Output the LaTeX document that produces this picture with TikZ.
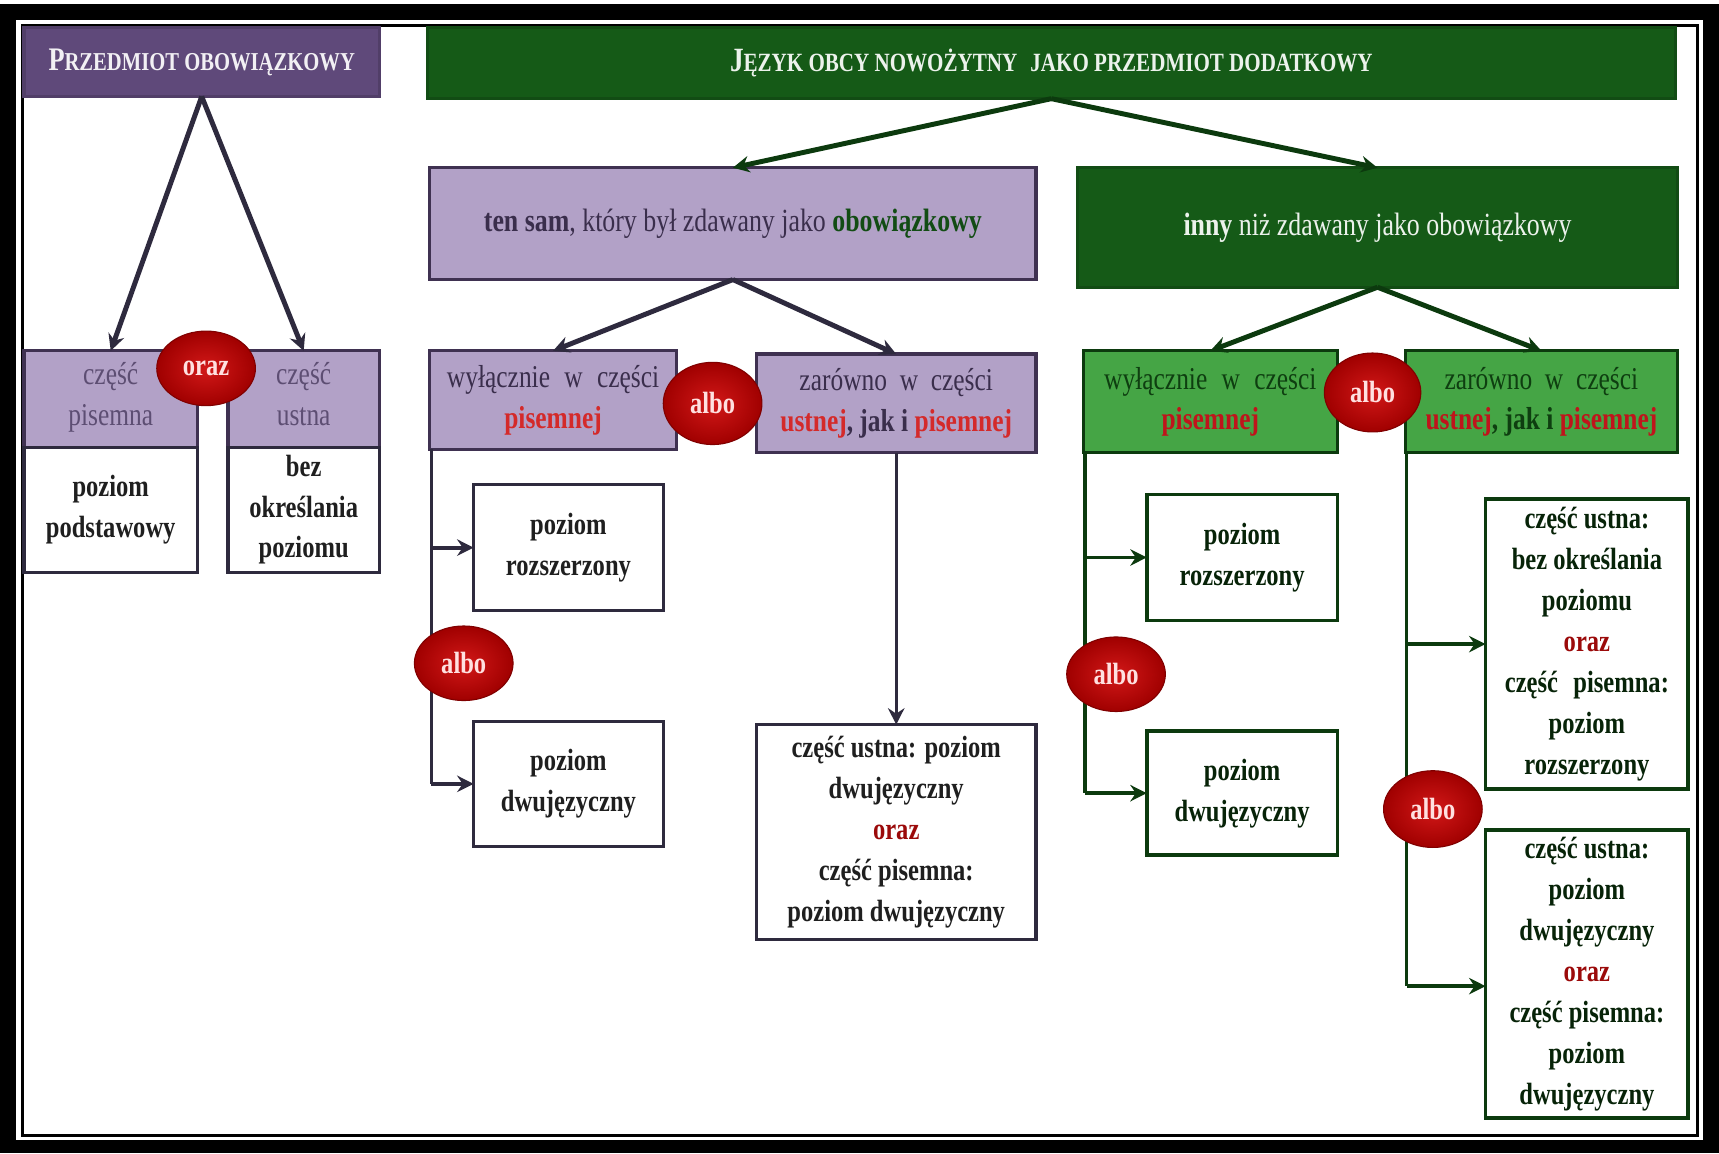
\documentclass[tikz,border=0pt]{standalone}
\usepackage{fontspec}
\setmainfont{Liberation Serif}[FakeStretch=0.8]
\usetikzlibrary{shapes.geometric,arrows.meta}
\definecolor{dpurple}{HTML}{5F497A}
\definecolor{lpurple}{HTML}{B2A1C7}
\definecolor{bpurple}{HTML}{3F3151}
\definecolor{tpurple}{HTML}{3A2E4C}
\definecolor{gpurple}{HTML}{5D4E73}
\definecolor{lnpurple}{HTML}{2E2A3E}
\definecolor{dgreen}{HTML}{155A17}
\definecolor{mgreen}{HTML}{45A545}
\definecolor{bgreen}{HTML}{0C3A0E}
\definecolor{tgreen}{HTML}{0E3E10}
\definecolor{txtred}{HTML}{D42A2A}
\definecolor{gred}{HTML}{C0141B}
\definecolor{darkred}{HTML}{9B0A0A}
\definecolor{ovalin}{HTML}{D21818}
\definecolor{ovalout}{HTML}{A00000}
\tikzset{
  base/.style={rectangle, inner sep=0pt, outer sep=0pt, align=center, line width=3pt},
  hdrP/.style={base, fill=dpurple, draw=dpurple!85!black, text=white!92!dpurple},
  hdrG/.style={base, fill=dgreen, draw=dgreen!85!black, text=white!92!dgreen},
  midP/.style={base, fill=lpurple, draw=bpurple, text=tpurple, font=\fontsize{29.5}{36}\selectfont},
  midG/.style={base, fill=dgreen, draw=dgreen!85!black, text=white!92!dgreen, font=\fontsize{29.5}{36}\selectfont},
  lboxP/.style={base, fill=lpurple, draw=bpurple, text=tpurple, font=\fontsize{29}{37}\selectfont},
  lboxG/.style={base, fill=mgreen, draw=bgreen, text=tgreen, font=\fontsize{29}{37}\selectfont},
  wboxP/.style={base, fill=white, draw=lnpurple, text=black!88, font=\fontsize{28}{37.2}\selectfont\bfseries},
  wboxG/.style={base, fill=white, draw=bgreen, line width=3.5pt, text=bgreen!60!black, font=\fontsize{28}{37.4}\selectfont\bfseries},
  oval/.style={ellipse, inner sep=0pt, minimum width=90pt, minimum height=68pt,
    inner color=ovalin, outer color=ovalout, draw=ovalout!80!black, line width=1pt,
    text=white!88!red, font=\fontsize{28}{30}\selectfont\bfseries},
  tipA/.style={-{Stealth[length=15pt,width=15pt,inset=5pt]}},
  arrP/.style={draw=lnpurple, line width=4.5pt, tipA},
  arrG/.style={draw=bgreen, line width=4.5pt, tipA},
  lineP/.style={draw=lnpurple, line width=3pt},
  lineG/.style={draw=bgreen, line width=3.5pt},
}
\begin{document}
\begin{tikzpicture}[x=1pt,y=-1pt]
\useasboundingbox (0,0) rectangle (1568,1052);
% frame
\fill[black] (0,4) rectangle (1568,1052);
\fill[white] (15,18) rectangle (1553,1040);
\draw[black, line width=2.5pt] (20.5,23) rectangle (1548.5,1035.5);

% headers
\node[hdrP, minimum width=324pt, minimum height=63pt] (A) at (184,56.5)
  {\bfseries\fontsize{30}{36}\selectfont P\fontsize{23.5}{36}\selectfont RZEDMIOT OBOWIĄZKOWY};
\node[hdrG, minimum width=1138pt, minimum height=65pt] (B) at (959,57.5)
  {\bfseries\fontsize{31}{36}\selectfont J\fontsize{24}{36}\selectfont ĘZYK OBCY NOWOŻYTNY\hspace{0.3em} JAKO PRZEDMIOT DODATKOWY};

\node[midP, minimum width=553pt, minimum height=102pt] (C) at (668.5,204)
  {{\bfseries ten sam}, który był zdawany jako {\bfseries\color{dgreen!85!black}obowiązkowy}};
\node[midG, minimum width=547pt, minimum height=109pt] (D) at (1256.5,207.5)
  {{\bfseries inny} niż zdawany jako obowiązkowy};

% left part
\node[lboxP, minimum width=158pt, minimum height=88pt, text=gpurple, text depth=9pt] (E1) at (101,364) {część\\pisemna};
\node[wboxP, minimum width=158pt, minimum height=114pt] (E2) at (101,465) {poziom\\podstawowy};
\node[lboxP, minimum width=138pt, minimum height=88pt, text=gpurple, text depth=9pt] (E3) at (277,364) {część\\ustna};
\node[wboxP, minimum width=138pt, minimum height=114pt] (E4) at (277,465) {bez\\określania\\poziomu};

% middle part
\node[lboxP, minimum width=225pt, minimum height=90pt] (F1) at (504.5,365)
  {wyłącznie\hspace{0.45em}w\hspace{0.45em}części\\{\bfseries\color{txtred}pisemnej}};
\node[lboxP, minimum width=255pt, minimum height=90pt] (F2) at (817.5,368)
  {zarówno\hspace{0.4em}w\hspace{0.4em}części\\{\bfseries\color{txtred}ustnej}{\bfseries, jak i }{\bfseries\color{txtred}pisemnej}};
\node[wboxP, minimum width=173pt, minimum height=115pt] (G1) at (518.5,499.5) {poziom\\rozszerzony};
\node[wboxP, minimum width=173pt, minimum height=114pt] (G2) at (518.5,715) {poziom\\dwujęzyczny};
\node[wboxP, minimum width=255pt, minimum height=196pt] (H) at (817.5,759)
  {część ustna: poziom\\dwujęzyczny\\{\color{darkred}oraz}\\część pisemna:\\poziom dwujęzyczny};

% right part
\node[lboxG, minimum width=232pt, minimum height=93pt] (I1) at (1104,366.5)
  {wyłącznie\hspace{0.45em}w\hspace{0.45em}części\\{\bfseries\color{gred}pisemnej}};
\node[lboxG, minimum width=248pt, minimum height=93pt] (I2) at (1406,366.5)
  {zarówno\hspace{0.4em}w\hspace{0.4em}części\\{\bfseries\color{gred}ustnej}{\bfseries, jak i }{\bfseries\color{gred}pisemnej}};
\node[wboxG, minimum width=174pt, minimum height=115pt] (J1) at (1133,508.5) {poziom\\rozszerzony};
\node[wboxG, minimum width=174pt, minimum height=113pt] (J2) at (1133,723.5) {poziom\\dwujęzyczny};
\node[wboxG, minimum width=185pt, minimum height=265pt] (K1) at (1447.5,587.5)
  {część ustna:\\bez określania\\poziomu\\{\color{darkred}oraz}\\część\hspace{0.5em}pisemna:\\poziom\\rozszerzony};
\node[wboxG, minimum width=185pt, minimum height=263pt] (K2) at (1447.5,888.5)
  {część ustna:\\poziom\\dwujęzyczny\\{\color{darkred}oraz}\\część pisemna:\\poziom\\dwujęzyczny};

% connectors
\draw[arrP] (A.south) -- (E1.north);
\draw[arrP] (A.south) -- (E3.north);
\draw[arrG] (B.south) -- (C.north);
\draw[arrG] (B.south) -- (D.north);
\draw[arrP] (C.south) -- (F1.north);
\draw[arrP] (C.south) -- (F2.north);
\draw[arrG] (D.south) -- (I1.north);
\draw[arrG] (D.south) -- (I2.north);

\draw[lineP] ([xshift=1.5pt]F1.south west) -- ([xshift=1.5pt]F1.south west |- G2.west);
\draw[arrP, line width=3.5pt] ([xshift=1.5pt]F1.south west |- G1.west) -- (G1.west);
\draw[arrP, line width=3.5pt] ([xshift=1.5pt]F1.south west |- G2.west) -- (G2.west);
\draw[arrP, line width=3pt] (F2.south) -- (H.north);

\draw[lineG] ([xshift=2pt]I1.south west) -- ([xshift=2pt]I1.south west |- J2.west);
\draw[arrG, line width=3.5pt] ([xshift=2pt]I1.south west |- J1.west) -- (J1.west);
\draw[arrG, line width=3.5pt] ([xshift=2pt]I1.south west |- J2.west) -- (J2.west);

\coordinate (K2in) at ([yshift=-11pt]K2.west);
\draw[lineG] ([xshift=1pt]I2.south west) -- ([xshift=1pt]I2.south west |- K2in);
\draw[arrG, line width=3.5pt] ([xshift=1pt]I2.south west |- K1.west) -- (K1.west);
\draw[arrG, line width=3.5pt] ([xshift=1pt]I2.south west |- K2in) -- (K2in);

% ovals
\node[oval, minimum width=90pt, minimum height=68pt] (o1) at (188,336) {oraz};
\node[oval, minimum width=90pt, minimum height=75pt] (o2) at (650,368) {albo};
\node[oval, minimum width=90pt, minimum height=68pt] (o3) at (423,605) {albo};
\node[oval, minimum width=88pt, minimum height=72pt] (o4) at (1252,358) {albo};
\node[oval, minimum width=90pt, minimum height=68pt] (o5) at (1018,615) {albo};
\node[oval, minimum width=90pt, minimum height=70pt] (o6) at (1307,738) {albo};
\end{tikzpicture}
\end{document}
